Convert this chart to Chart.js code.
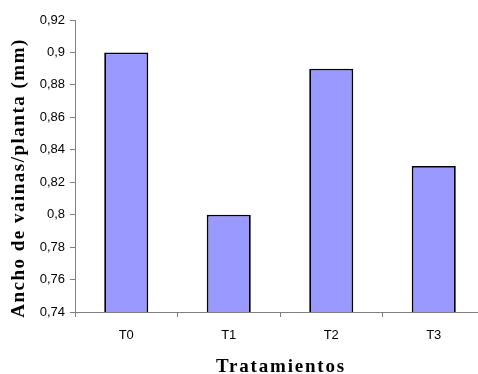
<!DOCTYPE html>
<html>
<head>
<meta charset="utf-8">
<script src="https://cdn.jsdelivr.net/npm/chart.js@4/dist/chart.umd.min.js"></script>
<style>
  html, body { margin: 0; padding: 0; background: #fff; overflow: hidden; }
  #wrap { width: 478px; height: 374px; overflow: hidden; }
  canvas { display: block; }
</style>
</head>
<body>
<div id="wrap"><canvas id="c" width="487" height="374"></canvas></div>
<script>
// Treatments and mean pod width per plant (mm)
const categories = ['T0', 'T1', 'T2', 'T3'];
const podWidth = [0.90, 0.80, 0.89, 0.83];
// Value axis range
const yMin = 0.74;
const yMax = 0.92;
const yStep = 0.02;

const axisGray = '#808080';

// Spread letters of the axis titles and fine-tune where they sit
const spacedTitles = {
  id: 'spacedTitles',
  beforeDraw(chart) {
    const ctx = chart.ctx;
    [['x', 1.8, 4, 1], ['y', 1.5, 12, 8]].forEach(([id, sp, dy, dx]) => {
      const sc = chart.scales[id];
      if (!sc || sc._patched) return;
      const orig = sc.drawTitle.bind(sc);
      sc.drawTitle = function () {
        ctx.save();
        ctx.letterSpacing = sp + 'px';
        ctx.translate(dx, dy);
        orig();
        ctx.restore();
      };
      sc._patched = true;
    });
  }
};

new Chart(document.getElementById('c'), {
  type: 'bar',
  data: {
    labels: categories,
    datasets: [{
      data: podWidth,
      backgroundColor: '#9999FF',
      borderColor: '#000000',
      borderWidth: 1.8,
      barPercentage: 0.43,
      categoryPercentage: 1
    }]
  },
  options: {
    responsive: false,
    animation: false,
    layout: { padding: { top: 20, right: 2, bottom: 0, left: 0 } },
    plugins: {
      legend: { display: false },
      tooltip: { enabled: false }
    },
    scales: {
      x: {
        afterFit(scale) { scale.height = 62; },
        grid: {
          drawOnChartArea: false,
          drawTicks: true,
          tickLength: 5,
          color: axisGray,
          offset: true
        },
        border: { color: axisGray, width: 1 },
        ticks: {
          color: '#000',
          padding: 11,
          font: { family: 'Liberation Sans, Arial', size: 13 }
        },
        title: {
          display: true,
          text: 'Tratamientos',
          color: '#000',
          padding: { top: 10, bottom: 0 },
          font: { family: 'Liberation Serif, Times New Roman', size: 19, weight: 'bold' }
        }
      },
      y: {
        min: yMin,
        max: yMax,
        afterFit(scale) { scale.width = 75; },
        grid: {
          drawOnChartArea: false,
          drawTicks: true,
          tickLength: 5,
          color: axisGray
        },
        border: { color: axisGray, width: 1 },
        ticks: {
          stepSize: yStep,
          color: '#000',
          padding: 5,
          font: { family: 'Liberation Sans, Arial', size: 13 },
          callback: v => String(+v.toFixed(2)).replace('.', ',')
        },
        title: {
          display: true,
          text: 'Ancho de vainas/planta (mm)',
          color: '#000',
          padding: { top: 0, bottom: 0 },
          font: { family: 'Liberation Serif, Times New Roman', size: 19, weight: 'bold' }
        }
      }
    }
  },
  plugins: [spacedTitles]
});
</script>
</body>
</html>
